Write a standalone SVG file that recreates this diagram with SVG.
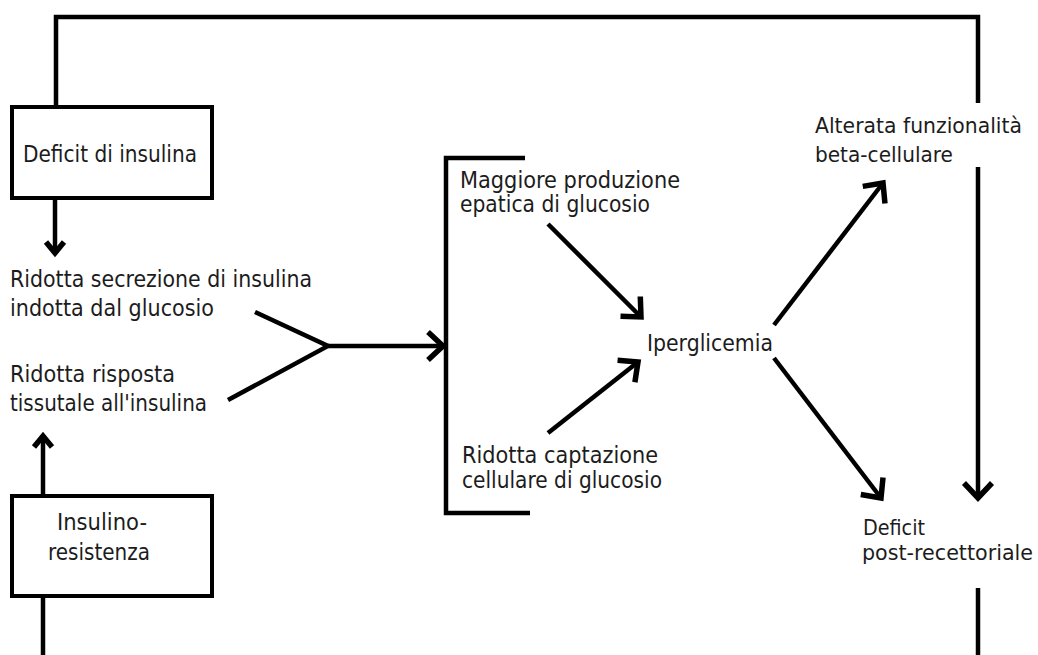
<svg xmlns="http://www.w3.org/2000/svg" width="1038" height="655" viewBox="0 0 1038 655">
<defs>
<style>
.t{font-family:"DejaVu Sans","Verdana",sans-serif;font-size:23px;fill:#1c1c1c}
.t2{font-family:"DejaVu Sans","Verdana",sans-serif;font-size:20.5px;fill:#1c1c1c}
.box{fill:#fff;stroke:#000;stroke-width:4}
.ln{fill:none;stroke:#000;stroke-width:4.5;stroke-linecap:butt}
</style>
<marker id="arr" viewBox="-20 -20 40 40" markerUnits="userSpaceOnUse" markerWidth="40" markerHeight="40" refX="0" refY="0" orient="auto">
<path d="M-15,-14 L0,0 L-15,14" fill="none" stroke="#000" stroke-width="5.5"/>
</marker>
<marker id="arrs" viewBox="-20 -20 40 40" markerUnits="userSpaceOnUse" markerWidth="40" markerHeight="40" refX="0" refY="0" orient="auto">
<path d="M-11,-9 L0,0 L-11,9" fill="none" stroke="#000" stroke-width="5.5"/>
</marker>
</defs>
<rect width="1038" height="655" fill="#fff"/>

<g id="connectors">
<polyline class="ln" points="56,107 56,17 978,17 978,103"/>
<line class="ln" x1="978" y1="167" x2="978" y2="498" marker-end="url(#arr)"/>
<line class="ln" x1="978" y1="588" x2="978" y2="655"/>
<line class="ln" x1="55" y1="198" x2="55" y2="253" marker-end="url(#arrs)"/>
<line class="ln" x1="43" y1="496" x2="43" y2="436" marker-end="url(#arrs)"/>
<line class="ln" x1="43" y1="596" x2="43" y2="655"/>
<polyline class="ln" points="255,312 328,346 228,400"/>
<line class="ln" x1="328" y1="346" x2="443" y2="346" marker-end="url(#arr)"/>
<line class="ln" x1="548" y1="224" x2="641" y2="317" marker-end="url(#arr)"/>
<line class="ln" x1="548" y1="433" x2="638" y2="362" marker-end="url(#arr)"/>
<line class="ln" x1="774" y1="325" x2="883" y2="183" marker-end="url(#arr)"/>
<line class="ln" x1="774" y1="358" x2="881" y2="498" marker-end="url(#arr)"/>
</g>

<g id="node-deficit-insulina">
<rect class="box" x="12" y="107" width="200" height="91"/>
<text class="t" x="23" y="162" textLength="174" lengthAdjust="spacingAndGlyphs">Deficit di insulina</text>
</g>

<g id="node-ridotta-secrezione">
<text class="t" x="10" y="287" textLength="302" lengthAdjust="spacingAndGlyphs">Ridotta secrezione di insulina</text>
<text class="t" x="10" y="316" textLength="204" lengthAdjust="spacingAndGlyphs">indotta dal glucosio</text>
</g>

<g id="node-ridotta-risposta">
<text class="t" x="10" y="382" textLength="165" lengthAdjust="spacingAndGlyphs">Ridotta risposta</text>
<text class="t" x="10" y="411" textLength="197" lengthAdjust="spacingAndGlyphs">tissutale all'insulina</text>
</g>

<g id="node-insulinoresistenza">
<rect class="box" x="12" y="496" width="200" height="100"/>
<text class="t" x="57" y="530" textLength="90" lengthAdjust="spacingAndGlyphs">Insulino-</text>
<text class="t" x="48" y="560" textLength="102" lengthAdjust="spacingAndGlyphs">resistenza</text>
</g>

<g id="node-bracket">
<polyline class="ln" points="525,158 446,158 446,513 530,513"/>
</g>

<g id="node-maggiore-produzione">
<text class="t" x="460" y="188" textLength="220" lengthAdjust="spacingAndGlyphs">Maggiore produzione</text>
<text class="t" x="460" y="212" textLength="190" lengthAdjust="spacingAndGlyphs">epatica di glucosio</text>
</g>

<g id="node-ridotta-captazione">
<text class="t" x="462" y="463" textLength="196" lengthAdjust="spacingAndGlyphs">Ridotta captazione</text>
<text class="t" x="462" y="488" textLength="200" lengthAdjust="spacingAndGlyphs">cellulare di glucosio</text>
</g>

<g id="node-iperglicemia">
<text class="t" x="647" y="351" textLength="126" lengthAdjust="spacingAndGlyphs">Iperglicemia</text>
</g>

<g id="node-alterata-funzionalita">
<text class="t2" x="815" y="133" textLength="207" lengthAdjust="spacingAndGlyphs">Alterata funzionalità</text>
<text class="t2" x="815" y="162" textLength="138" lengthAdjust="spacingAndGlyphs">beta-cellulare</text>
</g>

<g id="node-deficit-post">
<text class="t2" x="863" y="535" textLength="62" lengthAdjust="spacingAndGlyphs">Deficit</text>
<text class="t2" x="862" y="560" textLength="171" lengthAdjust="spacingAndGlyphs">post-recettoriale</text>
</g>
</svg>
